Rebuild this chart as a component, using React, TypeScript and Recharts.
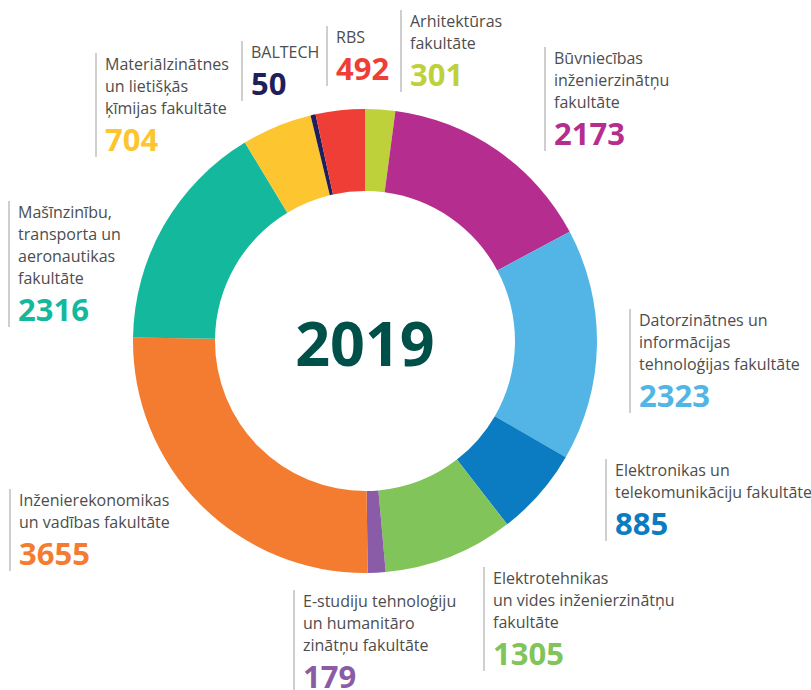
import React from "react";
import { PieChart, Pie, Cell } from "recharts";

// fakultātes pulksteņrādītāja virzienā, sākot no augšas
const faculties = [
  "Arhitektūras fakultāte",
  "Būvniecības inženierzinātņu fakultāte",
  "Datorzinātnes un informācijas tehnoloģijas fakultāte",
  "Elektronikas un telekomunikāciju fakultāte",
  "Elektrotehnikas un vides inženierzinātņu fakultāte",
  "E-studiju tehnoloģiju un humanitāro zinātņu fakultāte",
  "Inženierekonomikas un vadības fakultāte",
  "Mašīnzinību, transporta un aeronautikas fakultāte",
  "Materiālzinātnes un lietišķās ķīmijas fakultāte",
  "BALTECH",
  "RBS",
];

const students = [301, 2173, 2323, 885, 1305, 179, 3655, 2316, 704, 50, 492];

const labelLines = [
  ["Arhitektūras", "fakultāte"],
  ["Būvniecības", "inženierzinātņu", "fakultāte"],
  ["Datorzinātnes un", "informācijas", "tehnoloģijas fakultāte"],
  ["Elektronikas un", "telekomunikāciju fakultāte"],
  ["Elektrotehnikas", "un vides inženierzinātņu", "fakultāte"],
  ["E-studiju tehnoloģiju", "un humanitāro", "zinātņu fakultāte"],
  ["Inženierekonomikas", "un vadības fakultāte"],
  ["Mašīnzinību,", "transporta un", "aeronautikas", "fakultāte"],
  ["Materiālzinātnes", "un lietišķās", "ķīmijas fakultāte"],
  ["BALTECH"],
  ["RBS"],
];

const colors = [
  "#bfd13a",
  "#b52e8f",
  "#52b5e5",
  "#0b7cc1",
  "#80c45a",
  "#8a5ca8",
  "#f47c30",
  "#14b89c",
  "#fdc530",
  "#1f1f5e",
  "#ef3e36",
];

// label block placement (left edge of grey bar, top)
const labelPos = [
  { x: 400, y: 10 },
  { x: 544, y: 47 },
  { x: 629, y: 309 },
  { x: 605, y: 459 },
  { x: 483, y: 567 },
  { x: 293, y: 590 },
  { x: 9, y: 489 },
  { x: 8, y: 201 },
  { x: 95, y: 53 },
  { x: 241, y: 41 },
  { x: 326, y: 26 },
];

const chartData = faculties.map((name, i) => ({ name, value: students[i] }));

const App: React.FC = () => {
  return (
    <div
      style={{
        position: "absolute",
        left: 0,
        top: 0,
        width: 811,
        height: 690,
        background: "#fff",
        fontFamily: "'Open Sans', sans-serif",
        overflow: "hidden",
      }}
    >
      <PieChart width={811} height={690} margin={{ top: 0, right: 0, bottom: 0, left: 0 }}>
        <Pie
          data={chartData}
          dataKey="value"
          nameKey="name"
          cx={365}
          cy={341}
          innerRadius={150}
          outerRadius={232}
          startAngle={90}
          endAngle={-270}
          stroke="none"
          isAnimationActive={false}
        >
          {chartData.map((entry, index) => (
            <Cell key={`cell-${index}`} fill={colors[index]} />
          ))}
        </Pie>
      </PieChart>
      <div
        style={{
          position: "absolute",
          left: 265,
          top: 305,
          width: 200,
          textAlign: "center",
          fontSize: 61,
          fontWeight: 700,
          color: "#00504a",
          lineHeight: "76px",
        }}
      >
        2019
      </div>
      {labelPos.map((p, i) => (
        <div
          key={`lbl-${i}`}
          style={{
            position: "absolute",
            left: p.x,
            top: p.y,
            borderLeft: "2px solid #cfcfcf",
            paddingLeft: 8,
            whiteSpace: "nowrap",
          }}
        >
          {labelLines[i].map((line, j) => (
            <div
              key={j}
              style={{
                fontSize: 16,
                lineHeight: "22px",
                color: "#4d4d4d",
                fontWeight: 400,
              }}
            >
              {line}
            </div>
          ))}
          <div
            style={{
              fontSize: 31,
              fontWeight: 700,
              lineHeight: "36px",
              color: colors[i],
              marginTop: 2,
            }}
          >
            {students[i]}
          </div>
        </div>
      ))}
    </div>
  );
};

export default App;
